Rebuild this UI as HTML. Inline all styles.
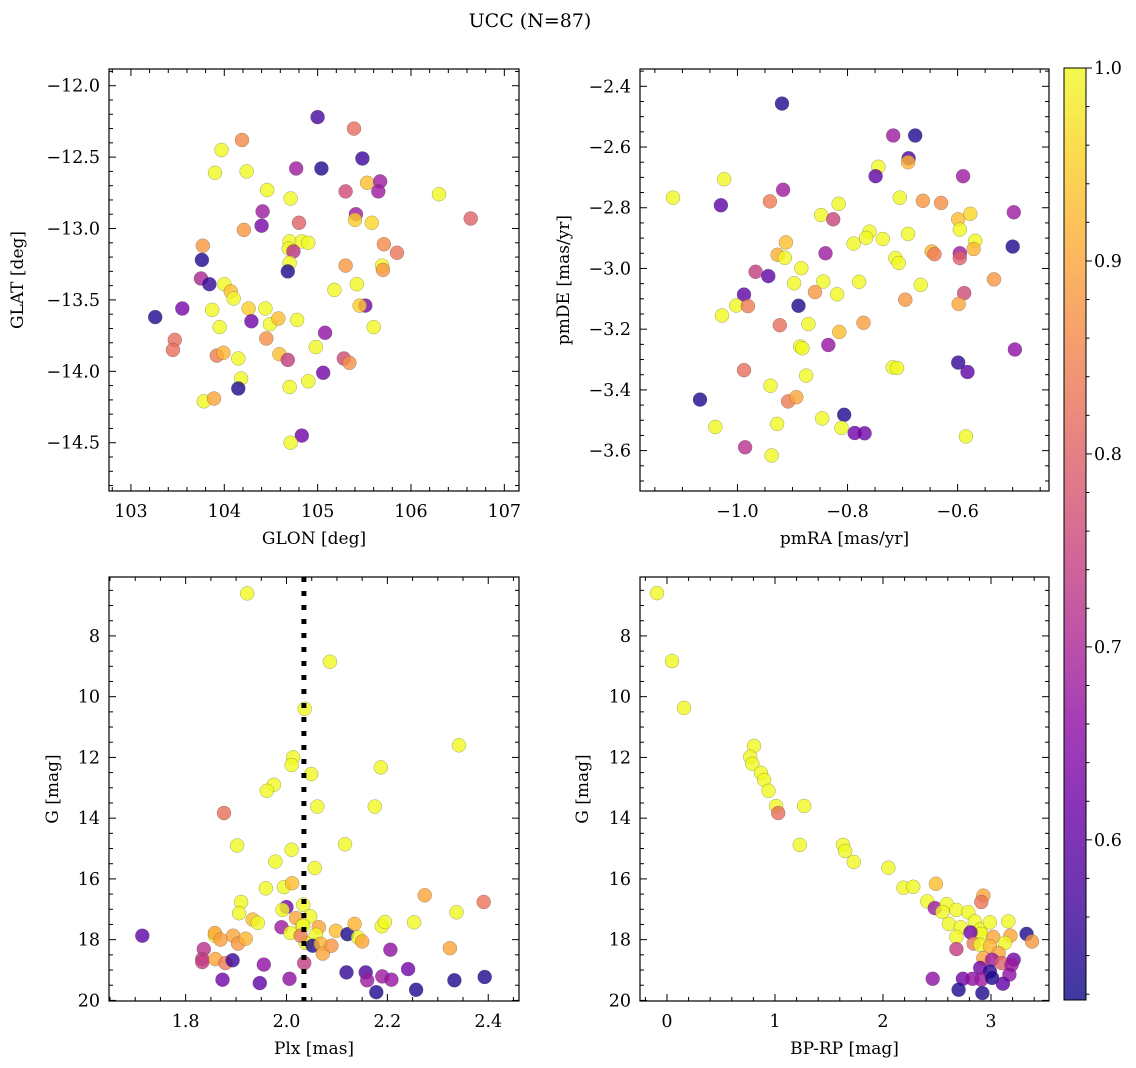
<!DOCTYPE html>
<html><head><meta charset="utf-8"><style>
html,body{margin:0;padding:0;background:#fff;}
svg{display:block;font-family:"DejaVu Serif","Liberation Serif",serif;}
</style></head><body>
<svg id="fig" width="1136" height="1068" viewBox="0 0 1136 1068" xmlns="http://www.w3.org/2000/svg">
<text x="530" y="27" text-anchor="middle" font-size="19">UCC (N=87)</text>
</svg>
<script>
// ---- Panel 1: GLON vs GLAT ----
const p1Glon=[105.00,105.39,104.19,103.97,105.48,103.90,104.24,104.77,105.04,104.46,104.71,105.30,105.53,105.67,105.65,106.30,104.41,104.40,104.21,104.80,105.41,105.40,105.58,106.64,103.77,103.76,104.70,104.83,104.90,104.69,104.74,105.71,105.85,104.70,104.68,105.30,105.69,105.70,103.75,103.84,104.00,104.07,104.10,105.18,105.42,105.51,105.45,103.26,103.55,103.87,104.26,104.44,104.29,104.49,104.58,104.78,103.95,105.60,105.08,103.47,103.45,104.45,103.92,103.99,104.15,104.98,104.59,104.68,105.28,105.34,105.06,104.18,104.15,104.70,104.90,103.78,103.89,104.83,104.71];
const p1Glat=[-12.22,-12.30,-12.38,-12.45,-12.51,-12.61,-12.60,-12.58,-12.58,-12.73,-12.79,-12.74,-12.68,-12.67,-12.74,-12.76,-12.88,-12.98,-13.01,-12.96,-12.90,-12.94,-12.96,-12.93,-13.12,-13.22,-13.09,-13.09,-13.10,-13.14,-13.16,-13.11,-13.17,-13.24,-13.30,-13.26,-13.26,-13.29,-13.35,-13.39,-13.39,-13.44,-13.49,-13.43,-13.39,-13.54,-13.54,-13.62,-13.56,-13.57,-13.56,-13.56,-13.65,-13.67,-13.63,-13.64,-13.69,-13.69,-13.73,-13.78,-13.85,-13.77,-13.89,-13.87,-13.91,-13.83,-13.88,-13.92,-13.91,-13.94,-14.01,-14.05,-14.12,-14.11,-14.07,-14.21,-14.19,-14.45,-14.50];
const p1Prob=[0.57,0.82,0.86,1,0.56,1,1,0.68,0.53,1,1,0.76,0.93,0.68,0.68,1,0.68,0.63,0.88,0.80,0.68,0.95,0.96,0.80,0.88,0.53,1,1,1,1,0.72,0.86,0.83,1,0.53,0.88,1,0.88,0.70,0.55,1,0.93,1,1,1,0.63,0.95,0.53,0.63,1,0.95,1,0.62,1,0.93,1,1,1,0.66,0.82,0.82,0.87,0.84,0.92,1,1,0.93,0.74,0.76,0.87,0.62,1,0.53,1,1,1,0.90,0.62,1];
// ---- Panel 2: pmRA vs pmDE ----
const p2PmRA=[-0.919,-0.717,-0.677,-0.689,-0.690,-0.744,-0.749,-1.024,-0.590,-1.117,-1.030,-0.917,-0.941,-0.816,-0.705,-0.663,-0.630,-0.498,-0.848,-0.826,-0.599,-0.577,-0.596,-0.760,-0.766,-0.789,-0.736,-0.690,-0.500,-0.568,-0.571,-0.912,-0.927,-0.914,-0.840,-0.647,-0.642,-0.596,-0.596,-0.713,-0.707,-0.967,-0.944,-0.884,-0.897,-0.844,-0.779,-0.534,-0.988,-1.002,-0.981,-0.889,-0.859,-0.819,-0.667,-0.588,-0.695,-0.598,-1.028,-0.923,-0.871,-0.815,-0.771,-0.886,-0.882,-0.835,-0.496,-0.599,-0.582,-0.718,-0.710,-0.988,-0.940,-0.875,-1.068,-0.908,-0.893,-1.040,-0.928,-0.846,-0.806,-0.811,-0.787,-0.769,-0.585,-0.986,-0.938];
const p2PmDE=[-2.457,-2.562,-2.562,-2.637,-2.650,-2.665,-2.696,-2.706,-2.696,-2.767,-2.792,-2.741,-2.779,-2.787,-2.767,-2.777,-2.784,-2.815,-2.824,-2.838,-2.838,-2.820,-2.872,-2.879,-2.899,-2.918,-2.903,-2.886,-2.928,-2.909,-2.936,-2.914,-2.955,-2.965,-2.950,-2.944,-2.953,-2.950,-2.966,-2.966,-2.982,-3.011,-3.025,-2.999,-3.049,-3.043,-3.044,-3.036,-3.086,-3.122,-3.124,-3.123,-3.078,-3.085,-3.054,-3.081,-3.103,-3.117,-3.155,-3.187,-3.183,-3.209,-3.179,-3.257,-3.263,-3.252,-3.267,-3.310,-3.341,-3.326,-3.328,-3.335,-3.386,-3.353,-3.432,-3.438,-3.424,-3.522,-3.512,-3.494,-3.482,-3.525,-3.542,-3.543,-3.553,-3.589,-3.616];
const p2Prob=[0.53,0.68,0.53,0.58,0.92,1,0.60,1,0.68,1,0.60,0.68,0.84,1,1,0.88,0.87,0.68,1,0.75,0.93,0.96,1,1,1,1,1,1,0.53,1,0.92,0.93,0.91,1,0.68,0.92,0.84,0.68,0.80,1,1,0.74,0.60,1,1,1,1,0.88,0.60,1,0.84,0.53,0.88,1,1,0.76,0.88,0.90,1,0.82,1,0.93,0.89,1,1,0.67,0.66,0.55,0.60,1,1,0.82,1,1,0.53,0.84,0.90,1,1,1,0.53,1,0.62,0.62,1,0.72,1];
// ---- Panel 3: Plx vs G ----
const p3Plx=[1.922,2.086,2.036,2.342,2.013,2.010,2.187,2.049,1.975,1.961,1.876,2.061,2.175,1.902,2.010,1.978,2.056,2.116,1.959,1.995,2.011,2.274,2.391,1.910,1.906,2.337,1.933,1.943,2.000,1.992,2.033,2.047,2.019,1.990,2.031,2.064,2.098,2.121,2.135,2.142,2.150,2.189,2.195,2.253,2.324,1.714,1.858,1.858,1.869,1.894,1.904,1.919,2.008,2.033,2.058,2.038,2.052,2.068,2.072,2.089,2.028,1.836,1.833,1.833,1.859,1.879,1.893,1.955,2.035,1.873,1.947,2.006,2.119,2.157,2.160,2.190,2.206,2.208,2.241,2.178,2.257,2.333,2.393];
const p3G=[6.6,8.85,10.4,11.6,12.0,12.25,12.33,12.55,12.9,13.1,13.83,13.62,13.62,14.90,15.04,15.43,15.64,14.86,16.31,16.27,16.14,16.54,16.76,16.76,17.13,17.10,17.34,17.45,16.93,17.02,16.85,17.23,17.29,17.59,17.54,17.59,17.71,17.82,17.48,17.93,18.06,17.56,17.42,17.43,18.28,17.87,17.87,17.78,18.00,17.87,18.13,17.97,17.78,17.54,17.84,18.11,18.20,18.14,18.46,18.20,17.87,18.31,18.64,18.74,18.64,18.77,18.68,18.82,18.77,19.32,19.43,19.29,19.08,19.08,19.34,19.21,18.33,19.32,18.97,19.73,19.65,19.34,19.23];
const p3Prob=[1,1,1,1,1,1,1,1,1,1,0.82,1,1,1,1,1,1,1,1,1,0.93,0.90,0.83,1,1,1,0.93,1,0.63,1,1,1,0.90,0.68,1,0.90,0.93,0.53,0.92,1,0.90,1,1,1,0.90,0.60,1,0.90,0.89,0.90,0.88,0.92,1,1,1,1,0.53,0.92,0.90,0.88,0.84,0.72,0.74,0.74,0.90,0.84,0.56,0.66,0.74,0.62,0.60,0.66,0.55,0.58,0.68,0.68,0.66,0.67,0.62,0.53,0.53,0.53,0.53];
const plxLine=[2.0345];
// ---- Panel 4: BP-RP vs G ----
const p4BpRp=[-0.093,0.046,0.157,0.806,0.77,0.79,0.87,0.90,0.94,1.01,1.03,1.27,1.23,1.63,1.65,1.73,2.05,2.19,2.28,2.49,2.93,2.91,2.41,2.48,2.59,2.55,2.68,2.79,2.61,2.72,2.85,2.90,2.99,3.16,2.91,2.81,2.68,3.02,3.18,3.33,3.38,3.13,2.84,2.90,2.99,3.07,2.68,2.93,3.01,3.10,3.21,3.19,2.90,2.99,3.17,2.74,2.83,2.91,3.01,3.11,2.46,2.70,2.92];
const p4G=[6.59,8.83,10.37,11.62,11.98,12.21,12.51,12.74,13.1,13.6,13.83,13.6,14.88,14.88,15.08,15.44,15.63,16.29,16.26,16.16,16.55,16.76,16.74,16.96,16.83,17.09,17.02,17.10,17.48,17.59,17.40,17.67,17.43,17.40,17.81,17.76,17.91,17.91,17.87,17.81,18.06,18.11,18.13,18.17,18.22,18.44,18.31,18.61,18.66,18.77,18.66,18.83,18.93,19.05,19.15,19.29,19.29,19.32,19.26,19.45,19.29,19.65,19.76];
const p4Prob=[1,1,1,1,1,1,1,1,1,1,0.82,1,1,1,1,1,1,1,1,0.93,0.90,0.83,1,0.68,1,1,1,1,1,1,1,1,1,1,1,0.62,1,0.90,0.90,0.53,0.88,1,0.84,1,0.92,0.90,0.74,0.90,0.68,0.80,0.62,0.68,0.62,0.55,0.66,0.62,0.66,0.68,0.53,0.60,0.66,0.53,0.53];
// ---- Colorbar ----
const cbTicks=[0.6,0.7,0.8,0.9,1.0];
const cbMin=0.517, cbMax=1.0;

const ALPHA=0.8;
const NS="http://www.w3.org/2000/svg";
const fig=document.getElementById('fig');
function mk(tag,attrs,parent){const e=document.createElementNS(NS,tag);for(const k in attrs)e.setAttribute(k,attrs[k]);(parent||fig).appendChild(e);return e;}
const plasma=[[13,8,135],[65,4,157],[106,0,168],[143,13,164],[177,42,144],[204,71,120],[225,100,98],[242,132,75],[252,166,54],[252,206,37],[240,249,33]];
function cmap(p){let t=(p-cbMin)/(cbMax-cbMin);t=Math.max(0,Math.min(1,t));const f=t*10,i=Math.min(9,Math.floor(f)),r=f-i;const a=plasma[i],b=plasma[i+1];return 'rgb('+[0,1,2].map(k=>Math.round(a[k]+(b[k]-a[k])*r)).join(',')+')';}
function fmt(v,d){const s=Math.abs(v).toFixed(d);return (v<-1e-9?'\u2212':'')+s;}
const FS=17.5;

function panel(o){
  const g=mk('g',{});
  
  
  const X=v=>o.x0+(v-o.xmin)/(o.xmax-o.xmin)*(o.x1-o.x0);
  const Y=v=>o.yinv? o.y0+(v-o.ymin)/(o.ymax-o.ymin)*(o.y1-o.y0) : o.y1-(v-o.ymin)/(o.ymax-o.ymin)*(o.y1-o.y0);
  const cid='clip-'+o.name;
  const cp=mk('clipPath',{id:cid},g);mk('rect',{x:o.x0,y:o.y0,width:o.x1-o.x0,height:o.y1-o.y0},cp);
  const pts=mk('g',{'clip-path':'url(#'+cid+')'},g);
  
  
  for(let i=0;i<o.xs.length;i++){
    const c=mk('circle',{cx:X(o.xs[i]).toFixed(1),cy:Y(o.ys[i]).toFixed(1),r:7,fill:cmap(o.ps[i]),'fill-opacity':ALPHA,stroke:'#444','stroke-width':0.4,'stroke-opacity':0.6},pts);
    
    
  }
  if(o.vline){for(const v of o.vline){const l=mk('line',{x1:X(v),x2:X(v),y1:o.y0,y2:o.y1,stroke:'#000','stroke-width':5,'stroke-dasharray':'5,9'},g);
    
    }}
  const frame=mk('rect',{x:o.x0,y:o.y0,width:o.x1-o.x0,height:o.y1-o.y0,fill:'none',stroke:'#000','stroke-width':1.2},g);
  
  
  const tk=mk('g',{stroke:'#000','stroke-width':1},g);
  for(let v=Math.ceil(o.xmin/o.xminor-1e-6)*o.xminor;v<=o.xmax+1e-9;v+=o.xminor){
    const isM=Math.abs(v/o.xmajor-Math.round(v/o.xmajor))<1e-4;const L=isM?7:4;const x=X(v);
    mk('line',{x1:x,x2:x,y1:o.y1,y2:o.y1-L},tk);mk('line',{x1:x,x2:x,y1:o.y0,y2:o.y0+L},tk);}
  for(let v=Math.ceil(o.ymin/o.yminor-1e-6)*o.yminor;v<=o.ymax+1e-9;v+=o.yminor){
    const isM=Math.abs(v/o.ymajor-Math.round(v/o.ymajor))<1e-4;const L=isM?7:4;const y=Y(v);
    mk('line',{x1:o.x0,x2:o.x0+L,y1:y,y2:y},tk);mk('line',{x1:o.x1,x2:o.x1-L,y1:y,y2:y},tk);}
  for(const v of o.xticks){const t=mk('text',{x:X(v),y:o.y1+26,'text-anchor':'middle','font-size':FS},g);t.textContent=fmt(v,o.xdec);
    
    }
  for(const v of o.yticks){const t=mk('text',{x:o.x0-9,y:Y(v)+6,'text-anchor':'end','font-size':FS},g);t.textContent=fmt(v,o.ydec);
    
    }
  const xl=mk('text',{x:(o.x0+o.x1)/2,y:o.y1+53,'text-anchor':'middle','font-size':17},g);xl.textContent=o.xlabel;
  
  
  const yc=(o.y0+o.y1)/2;
  const yl=mk('text',{x:o.ylx,y:yc,'text-anchor':'middle','font-size':17,transform:'rotate(-90 '+o.ylx+' '+yc+')'},g);yl.textContent=o.ylabel;
  
  
}

panel({name:'glon-glat-panel',x0:109,x1:519,y0:69,y1:491,xmin:102.765,xmax:107.157,ymin:-14.838,ymax:-11.883,
  xs:p1Glon,ys:p1Glat,ps:p1Prob,xmajor:1,xminor:0.2,ymajor:0.5,yminor:0.1,
  xticks:[103,104,105,106,107],yticks:[-12.0,-12.5,-13.0,-13.5,-14.0,-14.5],xdec:0,ydec:1,
  xlabel:'GLON [deg]',ylabel:'GLAT [deg]',ylx:23});
panel({name:'pm-panel',x0:640,x1:1049,y0:69,y1:491,xmin:-1.177,xmax:-0.434,ymin:-3.733,ymax:-2.343,
  xs:p2PmRA,ys:p2PmDE,ps:p2Prob,xmajor:0.2,xminor:0.05,ymajor:0.2,yminor:0.05,
  xticks:[-1.0,-0.8,-0.6],yticks:[-2.4,-2.6,-2.8,-3.0,-3.2,-3.4,-3.6],xdec:1,ydec:1,
  xlabel:'pmRA [mas/yr]',ylabel:'pmDE [mas/yr]',ylx:569});
panel({name:'plx-g-panel',x0:109,x1:519,y0:577,y1:1001,xmin:1.648,xmax:2.461,ymin:6.06,ymax:20.02,yinv:true,
  xs:p3Plx,ys:p3G,ps:p3Prob,vline:plxLine,xmajor:0.2,xminor:0.05,ymajor:2,yminor:0.5,
  xticks:[1.8,2.0,2.2,2.4],yticks:[8,10,12,14,16,18,20],xdec:1,ydec:0,
  xlabel:'Plx [mas]',ylabel:'G [mag]',ylx:58});
panel({name:'cmd-panel',x0:640,x1:1049,y0:577,y1:1001,xmin:-0.25,xmax:3.537,ymin:6.06,ymax:20.02,yinv:true,
  xs:p4BpRp,ys:p4G,ps:p4Prob,xmajor:1,xminor:0.2,ymajor:2,yminor:0.5,
  xticks:[0,1,2,3],yticks:[8,10,12,14,16,18,20],xdec:0,ydec:0,
  xlabel:'BP-RP [mag]',ylabel:'G [mag]',ylx:588});

(function(){
  const x0=1064,x1=1086,y0=68,y1=1000;
  const g=mk('g',{});
  
  
  const defs=mk('defs',{},g);
  const lg=mk('linearGradient',{id:'cbg',x1:0,y1:1,x2:0,y2:0},defs);
  for(let i=0;i<=20;i++){const p=cbMin+(cbMax-cbMin)*i/20;mk('stop',{offset:(i/20),'stop-color':cmap(p),'stop-opacity':ALPHA},lg);}
  mk('rect',{x:x0,y:y0,width:x1-x0,height:y1-y0,fill:'url(#cbg)',stroke:'#000','stroke-width':1},g);
  const Y=v=>y1-(v-cbMin)/(cbMax-cbMin)*(y1-y0);
  for(let v=0.52;v<=1.0001;v+=0.02){const isM=Math.abs(v*10-Math.round(v*10))<1e-4;mk('line',{x1:x1,x2:x1+(isM?6:3.5),y1:Y(v),y2:Y(v),stroke:'#000','stroke-width':1},g);}
  for(const v of cbTicks){const t=mk('text',{x:x1+8,y:Y(v)+6,'font-size':FS},g);t.textContent=v.toFixed(1);
    
    }
})();
</script>
</body></html>
